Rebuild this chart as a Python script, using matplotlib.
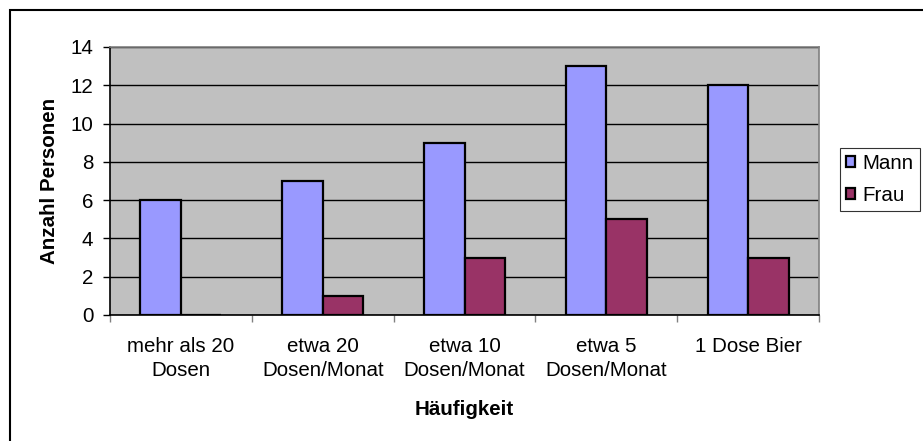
import numpy as np
import matplotlib
matplotlib.use('Agg')
import matplotlib.pyplot as plt
from matplotlib.patches import Rectangle

plt.rcParams['font.family'] = ['Liberation Sans', 'DejaVu Sans']

kategorien = ['mehr als 20\nDosen', 'etwa 20\nDosen/Monat', 'etwa 10\nDosen/Monat',
              'etwa 5\nDosen/Monat', '1 Dose Bier']
mann = [6, 7, 9, 13, 12]
frau = [0, 1, 3, 5, 3]

W, H = 923, 441
fs = 14.8
fig = plt.figure(figsize=(W / 100, H / 100), dpi=100)

# rahmen um das ganze diagramm
fig.patches.append(Rectangle((10 / W, -0.1), 1.2, 1 - 10 / H + 0.1, transform=fig.transFigure,
                             fill=False, edgecolor='black', linewidth=1.5))

ax = fig.add_axes([110 / W, 1 - 315 / H, (819 - 110) / W, (315 - 47) / H])
ax.set_facecolor('#C0C0C0')

x = np.arange(len(kategorien))
w = 1 / 3.5
ax.bar(x - w / 2, mann, w, color='#9999FF', edgecolor='black', linewidth=1.6, label='Mann', zorder=3)
ax.bar(x + w / 2, frau, w, color='#993366', edgecolor='black', linewidth=1.6, label='Frau', zorder=3)

ax.set_xlim(-0.5, len(kategorien) - 0.5)
ax.set_ylim(0, 14)
ax.set_yticks(range(0, 15, 2))
ax.yaxis.grid(True, color='black', linewidth=1)
ax.set_axisbelow(True)

ax.set_xticks(np.arange(-0.5, len(kategorien), 1))
ax.set_xticklabels([])
ax.set_xticks(x, minor=True)
ax.set_xticklabels(kategorien, minor=True, fontsize=fs, linespacing=1.35)
ax.tick_params(axis='x', which='minor', length=0, pad=16)
ax.tick_params(axis='x', which='major', length=5, width=1, color='#808080')
ax.tick_params(axis='y', length=5, width=1, labelsize=fs, color='black', pad=7)

for s in ['top', 'right']:
    ax.spines[s].set_color('#808080')
ax.spines['left'].set_color('black')
ax.spines['bottom'].set_color('black')
for s in ax.spines.values():
    s.set_linewidth(1.2)

ax.set_ylabel('Anzahl Personen', fontsize=fs, fontweight='bold', labelpad=8)
ax.set_xlabel('Häufigkeit', fontsize=fs, fontweight='bold', labelpad=14)

leg = fig.legend(loc='upper left', bbox_to_anchor=(840 / W, 1 - 148 / H), fontsize=fs,
                 frameon=True, fancybox=False, edgecolor='black', handlelength=0.45,
                 handleheight=0.45, handletextpad=0.35, borderpad=0.3, labelspacing=0.6,
                 borderaxespad=0)
leg.get_frame().set_linewidth(0.8)

fig.savefig('out.png', dpi=100)
